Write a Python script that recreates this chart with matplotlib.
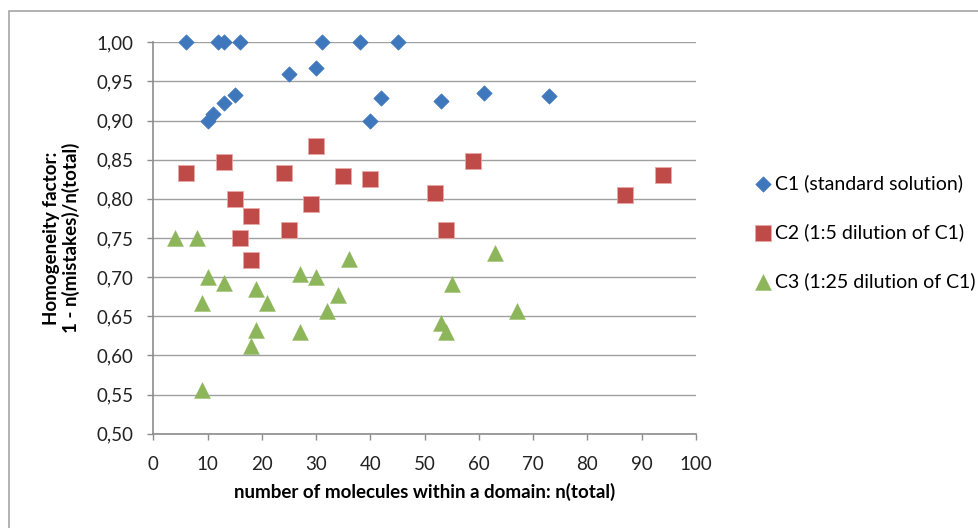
import matplotlib
matplotlib.use("Agg")
import matplotlib.pyplot as plt
from matplotlib.ticker import FuncFormatter, MultipleLocator
from matplotlib.patches import Rectangle

plt.rcParams['font.family'] = ['Lato', 'DejaVu Sans']

# C1 (standard solution)
c1_x = [6, 12, 13, 16, 31, 38, 45, 25, 30, 10, 11, 13, 15, 40, 42, 53, 61, 73]
c1_y = [1.0, 1.0, 1.0, 1.0, 1.0, 1.0, 1.0, 0.960, 0.967, 0.900, 0.909, 0.923,
        0.933, 0.900, 0.929, 0.925, 0.935, 0.932]

# C2 (1:5 dilution of C1)
c2_x = [6, 13, 24, 30, 35, 40, 15, 29, 18, 16, 18, 25, 59, 52, 54, 87, 94]
c2_y = [0.833, 0.847, 0.833, 0.867, 0.829, 0.825, 0.800, 0.794, 0.778, 0.750,
        0.722, 0.760, 0.848, 0.808, 0.760, 0.805, 0.830]

# C3 (1:25 dilution of C1)
c3_x = [4, 8, 10, 13, 9, 19, 21, 27, 30, 36, 34, 32, 19, 18, 27, 9, 63, 55,
        67, 53, 54]
c3_y = [0.750, 0.750, 0.700, 0.693, 0.667, 0.685, 0.667, 0.704, 0.700, 0.723,
        0.677, 0.657, 0.633, 0.612, 0.630, 0.556, 0.731, 0.691, 0.657, 0.642,
        0.630]

labels = ["C1 (standard solution)", "C2 (1:5 dilution of C1)",
          "C3 (1:25 dilution of C1)"]

fig = plt.figure(figsize=(9.79, 5.28), dpi=100)
ax = fig.add_axes([0.1566, 0.1786, 0.7109 - 0.1566, 0.9199 - 0.1786])

# light frame around the chart area (only top/left visible in the original)
fig.patches.append(Rectangle((9 / 979, -0.2), 1.2, 1.2 - 11 / 528, transform=fig.transFigure,
                             fill=False, edgecolor="#a6a6a6", linewidth=1.2))

ax.scatter(c1_x, c1_y, marker="D", s=7.8 ** 2, color="#3f77bc", edgecolors="#3f77bc",
           linewidths=0.5, label=labels[0], zorder=3, clip_on=False)
ax.scatter(c2_x, c2_y, marker="s", s=11.2 ** 2, color="#be4b48", edgecolors="#e8a8a6",
           linewidths=0.6, label=labels[1], zorder=3, clip_on=False)
ax.scatter(c3_x, c3_y, marker="^", s=11.5 ** 2, color="#8db55a", edgecolors="#8db55a",
           linewidths=0.3, label=labels[2], zorder=3, clip_on=False)

ax.set_xlim(0, 100)
ax.set_ylim(0.5, 1.0)
ax.xaxis.set_major_locator(MultipleLocator(10))
ax.yaxis.set_major_locator(MultipleLocator(0.05))
ax.yaxis.set_major_formatter(FuncFormatter(lambda v, p: f"{v:.2f}".replace(".", ",")))

ax.grid(axis="y", color="#a0a0a0", linewidth=1.0)
ax.set_axisbelow(True)
for side in ["top", "right"]:
    ax.spines[side].set_visible(False)
for side in ["left", "bottom"]:
    ax.spines[side].set_color("#8c8c8c")
    ax.spines[side].set_linewidth(1.2)
ax.tick_params(axis="both", colors="#8c8c8c", labelcolor="#222222", labelsize=13.5,
               length=4, width=1)
ax.tick_params(axis="y", pad=10)
ax.tick_params(axis="x", pad=12)

ax.set_xlabel("number of molecules within a domain: n(total)", fontsize=13.5,
              fontweight="bold", labelpad=7)
ax.set_ylabel("Homogeneity factor:\n1 - n(mistakes)/n(total)", fontsize=13.5,
              fontweight="bold", labelpad=12, linespacing=1.1)

fig.legend(loc="upper left", bbox_to_anchor=(745 / 979, 1 - 166 / 528), frameon=False,
           fontsize=14, handletextpad=0.05, labelspacing=1.6, handlelength=1.1,
           borderaxespad=0, scatterpoints=1)

fig.savefig("out.png", dpi=100)
